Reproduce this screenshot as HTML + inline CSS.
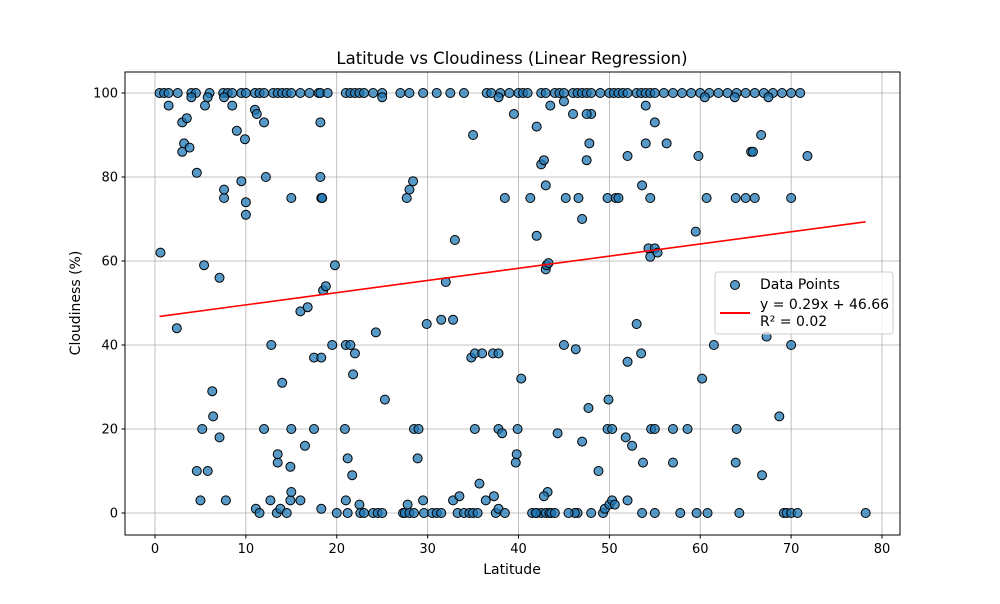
<!DOCTYPE html>
<html><head><meta charset="utf-8"><style>
body{margin:0;background:#fff;font-family:"DejaVu Sans","Liberation Sans",sans-serif;}
svg text{font-family:"DejaVu Sans","Liberation Sans",sans-serif;}
</style></head><body>
<svg id="chart" width="1000" height="600" xmlns="http://www.w3.org/2000/svg">
<rect width="1000" height="600" fill="#fff"/>
<g id="grid"></g>
<g id="pts"></g>
<g id="reg"></g>
<rect x="125" y="72" width="775" height="463" fill="none" stroke="#000" stroke-width="1"/>
<g id="axes"></g>
<text x="512" y="64" font-size="16.5" text-anchor="middle">Latitude vs Cloudiness (Linear Regression)</text>
<text x="512" y="574" font-size="14" text-anchor="middle">Latitude</text>
<text x="80" y="303" font-size="14" text-anchor="middle" transform="rotate(-90 80 303)">Cloudiness (%)</text>
<g>
<rect x="715" y="272" width="178" height="62" rx="3" fill="#fff" fill-opacity="0.8" stroke="#ccc"/>
<circle cx="735" cy="285" r="4.5" fill="#1f77b4" fill-opacity="0.75" stroke="#000"/>
<text x="760" y="289" font-size="14">Data Points</text>
<line x1="720" y1="313" x2="750" y2="313" stroke="red" stroke-width="2"/>
<text id="eqText" x="760" y="309" font-size="14"></text>
<text id="r2Text" x="760" y="326" font-size="14"></text>
</g>
</svg>
<script>
const lats=[0.5,1,1.5,2.5,4,4.5,6,7.5,8,8.5,9.5,10,11,11.5,12,13,13.5,14,14.5,15,16,17,18,18.2,19,21,21.5,22,22.5,23,24,25,27,28,29.5,31,32.5,34,36.5,37,38,39,40,40.5,41,42.5,43,44,44.5,45,46,46.5,47,47.5,48,49,50,50.5,51,51.5,52,53,53.5,54,54.5,55,56,57,58,59,60,61,62,63,64,65,66,67,68,69,70,71,
1.5,5.5,8.5,11,11.2,7.6,25,37.8,43.5,45,48,47.5,54,55,60.5,63.8,67.5,4,
3,3,3.2,3.5,3.8,5.8,4.6,7.6,7.6,9,9.5,9.9,10,10,12,12.2,15,18.2,18.2,18.3,18.4,28,28.4,27.7,35,38.5,39.5,42,42.5,42.8,43,41.3,46,45.2,46.6,47,47.8,47.5,49.8,50.7,51,52,53.6,54,54.5,56.3,59.8,60.7,63.9,65,65.6,65.8,66,66.7,71.8,70,59.5,
0.6,2.4,5.4,7.1,12.8,16,16.8,17.5,18.5,18.8,18.3,19.8,19.5,21,21.5,22,21.8,24.3,29.9,31.5,32,32.8,33,34.8,35.2,36,37.2,37.8,40.3,42,43,43.1,43.3,45,46.3,54.3,54.5,55,55.3,53,53.5,52,60.2,61.5,67.3,70,
5.2,6.3,6.4,7.1,12,13.5,13.5,14,15,16.5,17.5,20.9,21.2,21.7,25.3,28.5,29,28.9,35.2,35.7,37.3,37.8,38.2,39.7,39.8,39.9,43.2,44.3,47,47.7,48.8,49.9,49.8,50.3,51.8,52.5,53.7,54.6,55,57,58.6,57,64,63.9,66.8,68.7,
5,4.6,5.8,7.8,11.1,11.5,12.7,13.4,13.8,14.5,14.9,15,14.9,16,18.3,20,21,21.2,22.5,22.6,23,24,24.5,25,27.3,27.5,27.8,28,28.5,29.5,29.6,30.5,31,31.5,32.8,33.3,33.5,34,34.6,35,35.5,36.4,37.5,37.8,38.5,41.5,42,42.5,42.8,43,43.4,43.6,46.5,46.2,48,49.3,49.5,50,50.3,50.6,53.6,55,57.8,59.6,60.8,64.3,69.2,69.5,70,70.7,78.2,44,45.5,41.9,52];
const clouds=[100,100,100,100,100,100,100,100,100,100,100,100,100,100,100,100,100,100,100,100,100,100,100,100,100,100,100,100,100,100,100,100,100,100,100,100,100,100,100,100,100,100,100,100,100,100,100,100,100,100,100,100,100,100,100,100,100,100,100,100,100,100,100,100,100,100,100,100,100,100,100,100,100,100,100,100,100,100,100,100,100,100,
97,97,97,96,95,99,99,99,97,98,95,95,97,93,99,99,99,99,
93,86,88,94,87,99,81,75,77,91,79,89,74,71,93,80,75,93,80,75,75,77,79,75,90,75,95,92,83,84,78,75,95,75,75,70,88,84,75,75,75,85,78,88,75,88,85,75,75,75,86,86,75,90,85,75,67,
62,44,59,56,40,48,49,37,53,54,37,59,40,40,40,38,33,43,45,46,55,46,65,37,38,38,38,38,32,66,58,59,59.5,40,39,63,61,63,62,45,38,36,32,40,42,40,
20,29,23,18,20,12,14,31,20,16,20,20,13,9,27,20,20,13,20,7,4,20,19,12,14,20,5,19,17,25,10,27,20,20,18,16,12,20,20,20,20,12,20,12,9,23,
3,10,10,3,1,0,3,0,1,0,3,5,11,3,1,0,3,0,2,0,0,0,0,0,0,0,2,0,0,3,0,0,0,0,3,0,4,0,0,0,0,3,0,1,0,0,0,0,4,0,0,0,0,0,0,0,1,2,3,2,0,0,0,0,0,0,0,0,0,0,0,0,0,0,3];
const xTicks=[0,10,20,30,40,50,60,70,80];
const yTicks=[0,20,40,60,80,100];
const regSlope=[0.29];
const regIntercept=[46.66];
const rSquared=[0.02];

const NS="http://www.w3.org/2000/svg";
const X0=155,XK=9.0875,Y0=513,YK=4.2;
function xs(v){return X0+v*XK;}
function ys(v){return Y0-v*YK;}
function mk(t,a,p){const e=document.createElementNS(NS,t);for(const k in a)e.setAttribute(k,a[k]);p.appendChild(e);return e;}
const grid=document.getElementById('grid'),axes=document.getElementById('axes');
xTicks.forEach(t=>{
 const g=mk('line',{x1:xs(t),x2:xs(t),y1:72,y2:535,stroke:'#b0b0b0','stroke-width':0.8},grid);
 
 
 const k=mk('line',{x1:xs(t),x2:xs(t),y1:535,y2:538.5,stroke:'#000'},axes);
 
 
 const l=mk('text',{x:xs(t),y:553,'font-size':13,'text-anchor':'middle'},axes);
 l.textContent=t;
 
 
});
yTicks.forEach(t=>{
 const g=mk('line',{x1:125,x2:900,y1:ys(t),y2:ys(t),stroke:'#b0b0b0','stroke-width':0.8},grid);
 
 
 const k=mk('line',{x1:121.5,x2:125,y1:ys(t),y2:ys(t),stroke:'#000'},axes);
 
 
 const l=mk('text',{x:118,y:ys(t)+4.5,'font-size':13,'text-anchor':'end'},axes);
 l.textContent=t;
 
 
});
const pts=document.getElementById('pts');
lats.forEach((la,i)=>{
 const c=mk('circle',{cx:xs(la),cy:ys(clouds[i]),r:4.5,fill:'#1f77b4','fill-opacity':0.75,stroke:'#000','stroke-width':1},pts);
 
 
});
const mn=Math.min(...lats),mx=Math.max(...lats);
const rl=mk('line',{x1:xs(mn),y1:ys(regSlope[0]*mn+regIntercept[0]),x2:xs(mx),y2:ys(regSlope[0]*mx+regIntercept[0]),stroke:'red','stroke-width':1.6},document.getElementById('reg'));


document.getElementById('eqText').textContent='y = '+regSlope[0].toFixed(2)+'x + '+regIntercept[0].toFixed(2);
document.getElementById('r2Text').textContent='R² = '+rSquared[0].toFixed(2);
</script>
</body></html>
